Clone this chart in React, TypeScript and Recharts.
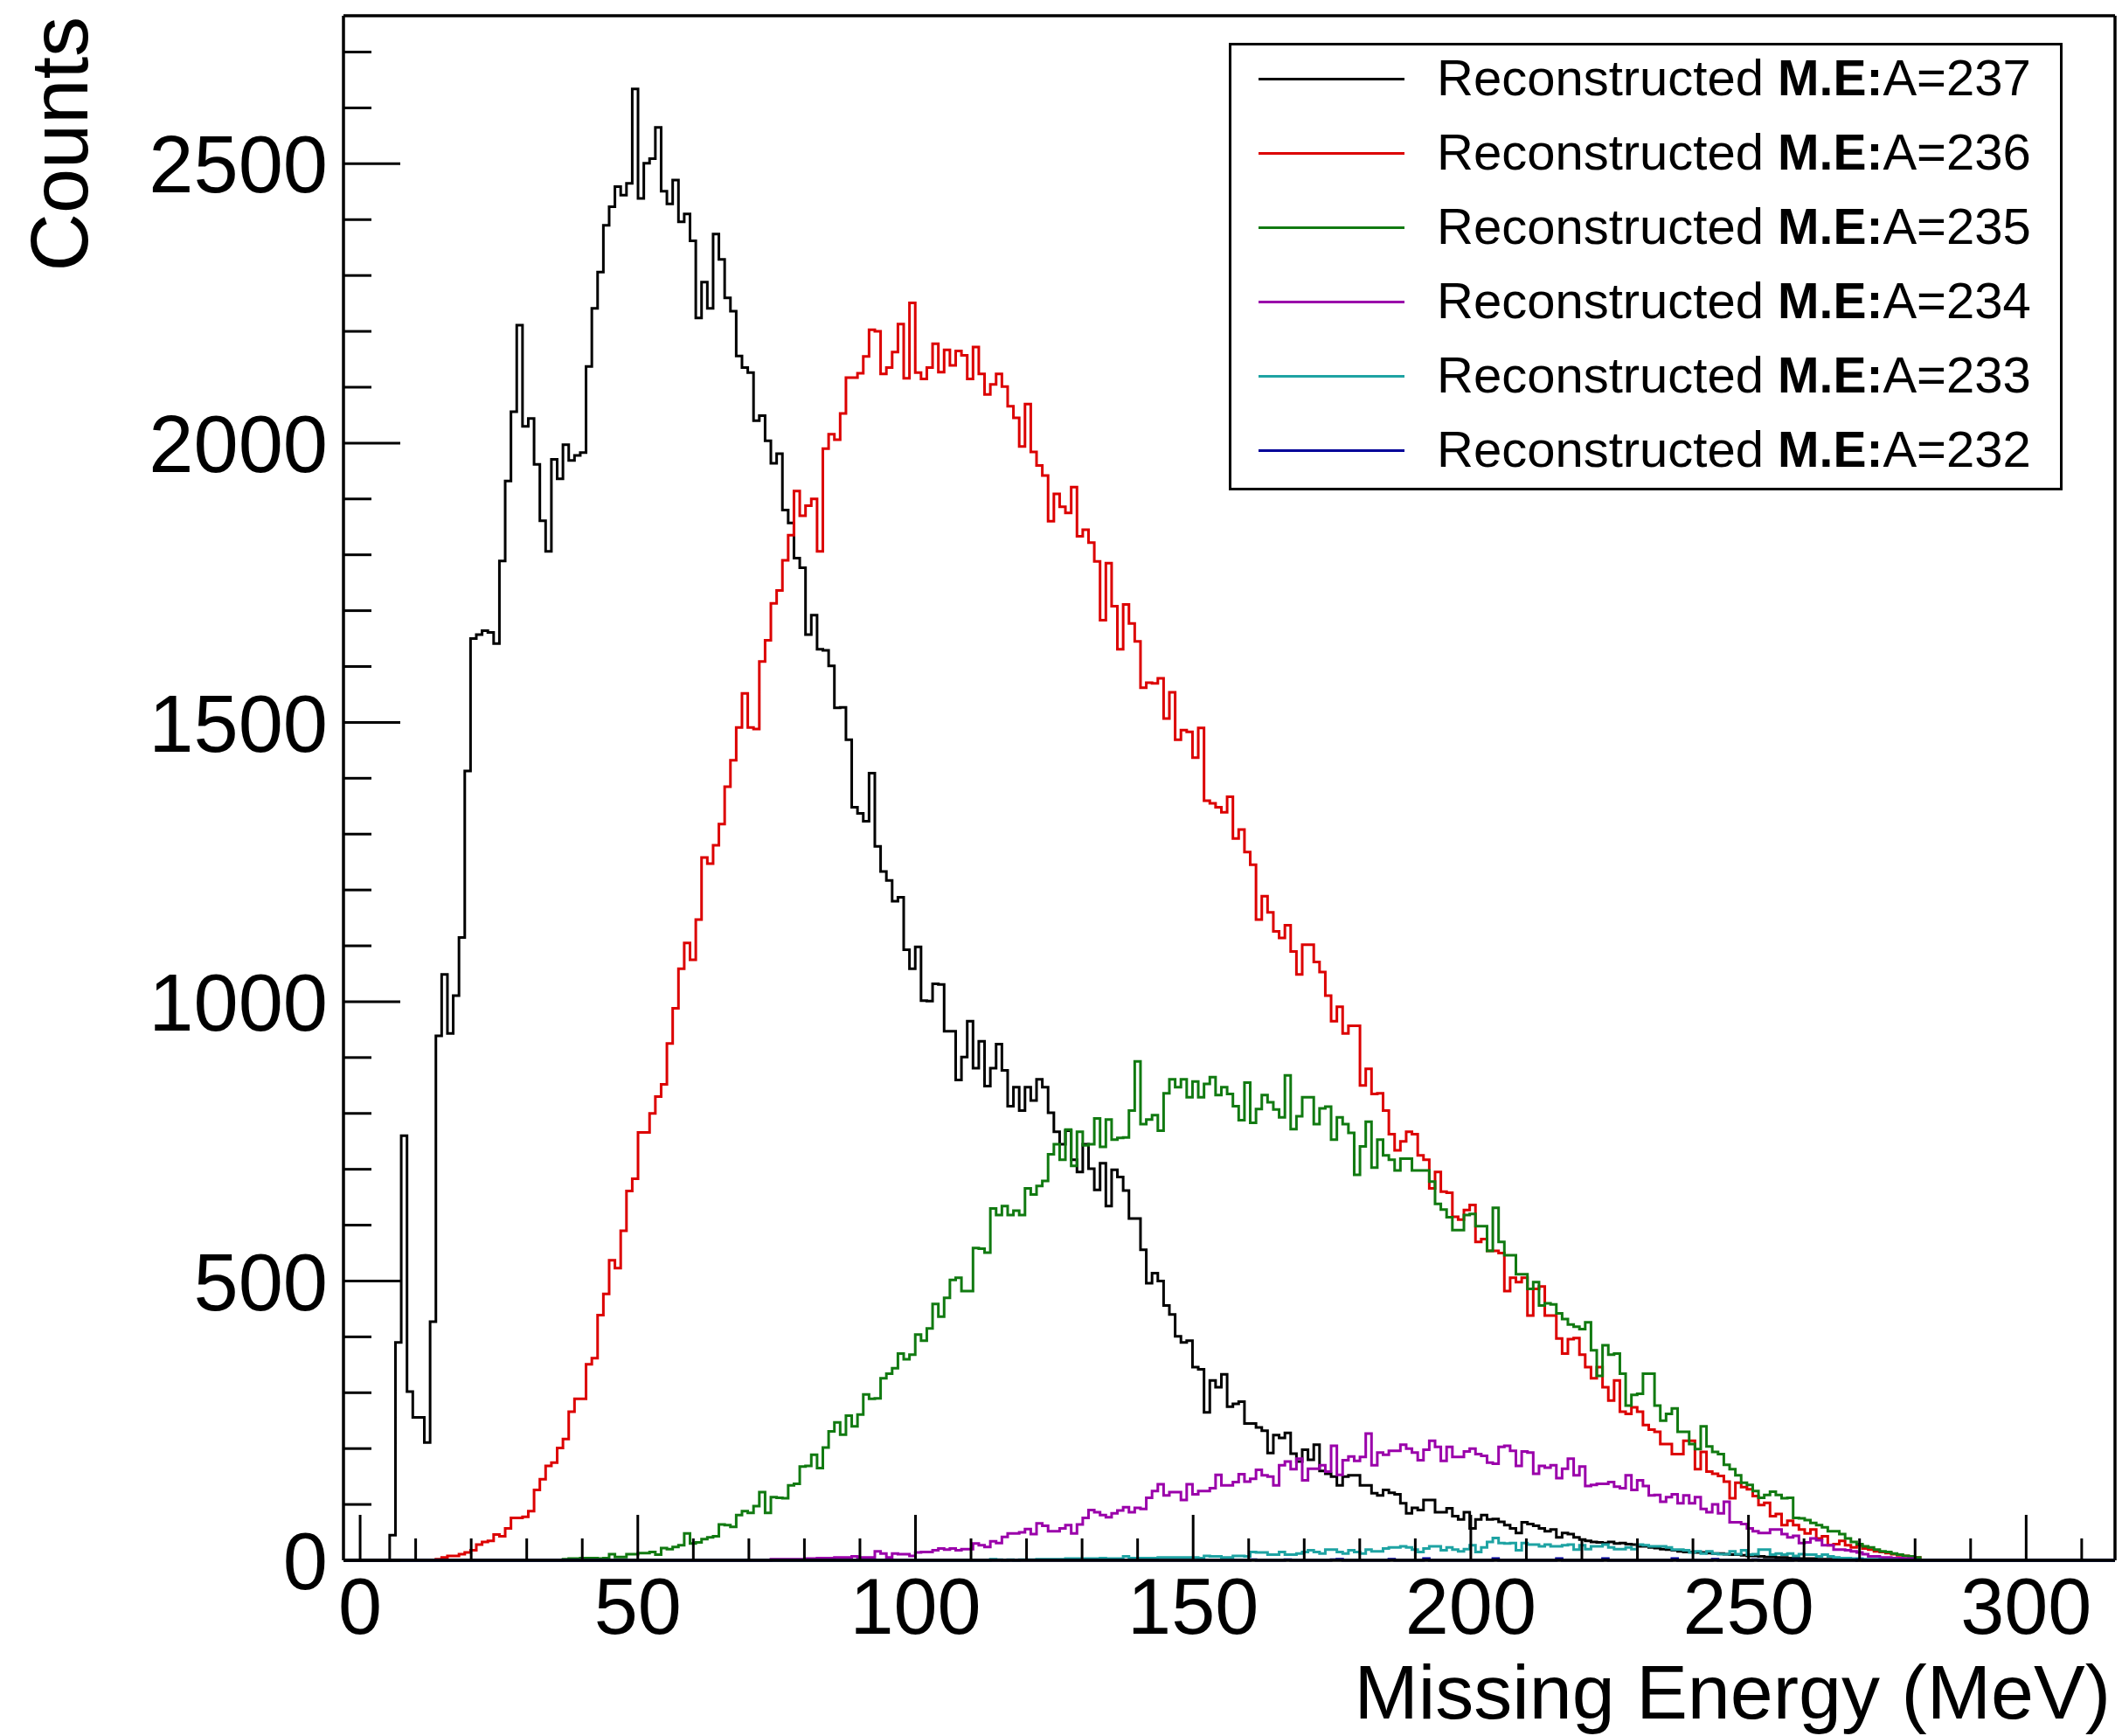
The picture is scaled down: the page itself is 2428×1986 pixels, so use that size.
import React from 'react';
import { LineChart, Line, XAxis, YAxis, ReferenceLine, Legend } from 'recharts';

const FONT = '"Liberation Sans", Arial, Helvetica, sans-serif';

// histogram binning (MeV)
const BIN_START = -3;
const BIN_WIDTH = 1.04;
const BIN_COUNT = 307;
const X_MAX = 316;
const Y_MAX = 2765;

const xTicks = [0, 10, 20, 30, 40, 50, 60, 70, 80, 90, 100, 110, 120, 130, 140, 150, 160, 170, 180, 190, 200, 210, 220, 230, 240, 250, 260, 270, 280, 290, 300, 310];
const yTicks = [0, 100, 200, 300, 400, 500, 600, 700, 800, 900, 1000, 1100, 1200, 1300, 1400, 1500, 1600, 1700, 1800, 1900, 2000, 2100, 2200, 2300, 2400, 2500, 2600, 2700];

// counts per bin, first entry sits in bin index *Start
const a237Start = 8;
const a237 = [
  45, 390, 760, 302, 256, 256, 211, 427,
  939, 1049, 943, 1011, 1115, 1413, 1650, 1657, 1664, 1661, 1641,
  1789, 1932, 2056, 2211, 2030, 2044, 1962, 1861, 1806, 1971, 1936, 1997, 1969, 1978, 1983, 2137, 2241, 2306, 2390, 2423,
  2459, 2444, 2465, 2634, 2438, 2501, 2509, 2565, 2451, 2428, 2471, 2396, 2410, 2362, 2224, 2288, 2241, 2374, 2329, 2260,
  2236, 2156, 2135, 2126, 2040, 2049, 2004, 1964, 1981, 1880, 1857, 1794, 1777, 1657, 1692, 1631, 1629, 1601, 1526, 1527,
  1469, 1348, 1337, 1323, 1409, 1278, 1233, 1217, 1180, 1187, 1093, 1059, 1098, 1002, 1001, 1032, 1031, 947, 947, 860,
  901, 965, 881, 929, 849, 881, 924, 877, 813, 847, 805, 847, 823, 861, 847, 801, 767, 745, 769, 717,
  695, 745, 701, 663, 711, 634, 699, 686, 662, 612, 612, 556, 496, 514, 500, 456, 440, 401, 390, 393,
  346, 342, 265, 322, 310, 333, 275, 280, 284, 245, 245, 238, 232, 192, 224, 219, 228, 191, 177, 198,
  180, 207, 160, 155, 150, 134, 150, 152, 152, 134, 134, 120, 116, 126, 121, 118, 102, 84, 94, 90,
  108, 108, 86, 86, 93, 79, 73, 86, 57, 73, 81, 73, 74, 69, 63, 57, 49, 68, 65, 62,
  57, 52, 55, 41, 49, 47, 41, 37, 35, 33, 32, 31, 33, 30, 31, 29, 28, 25, 25, 23,
  22, 20, 19, 18, 16, 15, 15, 14, 14, 13, 12, 12, 11, 10, 10, 9, 8, 8, 7, 6,
  6, 5, 5, 4, 4, 3, 3, 3, 2, 2, 2, 2, 1, 1, 1,
];

const a236Start = 16;
const a236 = [
  2, 5, 8, 8, 11, 14, 18, 28, 33, 35, 46, 43, 57, 76, 76, 78, 88, 126, 145, 169,
  175, 201, 217, 266, 289, 289, 351, 362, 439, 477, 537, 523, 590, 661, 683, 766, 766, 800, 830, 852,
  925, 988, 1059, 1105, 1075, 1147, 1258, 1247, 1280, 1318, 1385, 1432, 1491, 1552, 1491, 1488, 1609, 1647, 1713, 1736,
  1790, 1835, 1914, 1870, 1888, 1900, 1806, 1990, 2016, 2006, 2053, 2117, 2117, 2125, 2155, 2203, 2200, 2124, 2135, 2163,
  2213, 2116, 2251, 2126, 2115, 2135, 2178, 2127, 2167, 2139, 2165, 2157, 2115, 2172, 2124, 2087, 2105, 2124, 2101, 2066,
  2045, 1994, 2070, 1984, 1960, 1942, 1860, 1909, 1886, 1875, 1921, 1833, 1845, 1822, 1788, 1683, 1785, 1708, 1631, 1711,
  1677, 1645, 1562, 1571, 1570, 1579, 1507, 1554, 1469, 1486, 1483, 1437, 1490, 1360, 1355, 1348, 1339, 1367, 1292, 1308,
  1268, 1245, 1147, 1189, 1160, 1126, 1114, 1137, 1090, 1049, 1102, 1102, 1071, 1053, 1011, 965, 991, 943, 957, 957,
  850, 880, 835, 836, 805, 763, 734, 750, 767, 763, 725, 717, 666, 695, 660, 658, 615, 610, 627, 636,
  570, 575, 554, 554, 550, 482, 506, 498, 506, 438, 486, 490, 438, 438, 397, 370, 396, 398, 368, 346,
  326, 346, 310, 286, 322, 266, 262, 274, 266, 242, 234, 230, 208, 208, 190, 190, 214, 214, 163, 194,
  159, 155, 151, 141, 111, 139, 131, 127, 115, 99, 103, 79, 83, 63, 71, 63, 55, 48, 55, 39,
  43, 27, 29, 35, 27, 23, 27, 21, 19, 16, 15, 13, 11, 9, 8, 7, 5,
];

const a235Start = 38;
const a235 = [
  2, 3, 3, 4, 4, 4, 3, 4, 11, 6, 6, 11, 11, 13, 13, 15, 10, 22, 20, 24,
  27, 48, 30, 32, 38, 41, 43, 64, 63, 60, 81, 88, 85, 97, 122, 85, 113, 112, 111, 134,
  137, 168, 169, 189, 165, 202, 231, 247, 225, 259, 240, 261, 297, 289, 290, 326, 334, 344, 370, 360,
  368, 404, 393, 415, 459, 436, 470, 502, 506, 482, 482, 559, 558, 551, 630, 618, 634, 618, 626, 618,
  666, 655, 670, 679, 727, 745, 717, 771, 706, 767, 743, 745, 791, 740, 789, 753, 756, 757, 805, 893,
  781, 789, 797, 769, 836, 861, 847, 861, 829, 857, 829, 853, 865, 833, 847, 835, 813, 788, 855, 783,
  808, 833, 820, 807, 793, 868, 772, 795, 829, 829, 781, 809, 812, 753, 793, 781, 765, 690, 741, 785,
  703, 753, 725, 717, 698, 719, 719, 698, 698, 698, 678, 638, 628, 614, 591, 591, 618, 620, 598, 598,
  554, 631, 570, 546, 546, 512, 512, 486, 498, 456, 460, 458, 442, 432, 422, 418, 414, 426, 376, 330,
  385, 368, 370, 334, 277, 296, 298, 334, 334, 277, 250, 262, 272, 230, 230, 208, 199, 240, 204, 194,
  190, 171, 163, 152, 139, 135, 124, 112, 117, 123, 117, 111, 112, 76, 75, 72, 67, 63, 59, 52,
  52, 47, 39, 33, 29, 25, 23, 19, 16, 15, 12, 10, 8, 7, 5,
];

const a234Start = 74;
const a234 = [
  2, 2, 2, 2, 2, 2,
  3, 3, 4, 4, 4, 5, 5, 5, 7, 5, 5, 5,
  16, 12, 5, 12, 11, 11, 8, 14, 15, 15, 18, 21, 19, 21, 18, 20, 20,
  30, 27, 24, 34, 31, 42, 48, 48, 50, 56, 47, 66, 62, 52, 52, 57, 63, 48, 64, 76,
  90, 86, 81, 77, 84, 89, 95, 86, 94, 92, 112, 124, 136, 116, 122, 122, 108, 136, 118, 124,
  124, 129, 153, 134, 134, 140, 154, 141, 146, 162, 152, 150, 134, 170, 177, 163, 182, 143, 164, 164,
  170, 159, 205, 153, 179, 186, 178, 185, 227, 170, 193, 189, 196, 196, 207, 200, 193, 179, 198, 214, 203, 178, 203, 185,
  185, 195, 200, 190, 187, 175, 173, 203, 205, 196, 169, 195, 193, 155, 169, 166, 170, 147, 164, 182,
  152, 168, 133, 135, 137, 137, 140, 132, 129, 152, 126, 143, 133, 116, 117, 105, 113, 118, 102, 116,
  102, 113, 92, 86, 100, 84, 105, 68, 68, 65, 57, 52, 49, 49, 55, 55, 47, 41, 44, 31,
  32, 39, 36, 27, 27, 19, 19, 18, 16, 14, 11, 7, 7, 5, 5, 4, 4, 3, 3,
];

const a233Start = 112;
const a233 = [
  2, 1, 0, 1, 0, 1, 1, 1,
  2, 2, 2, 2, 2, 3, 3, 3,
  3, 3, 3, 4, 3, 3, 3, 7, 4,
  4, 4, 4, 4, 5, 5, 5, 5, 5, 5, 5, 4,
  8, 7, 7, 5, 5, 8, 8, 7, 15, 14, 14, 10,
  10, 15, 10, 10, 12, 15, 18, 15, 12, 19, 19, 15, 12, 18, 15, 12,
  19, 16, 16, 21, 23, 23, 25, 23, 19, 15, 21, 25, 25, 18, 23, 19,
  16, 20, 27, 15, 23, 33, 40, 31, 30, 31, 18, 31, 28, 28, 25, 28, 25, 25, 27, 28,
  19, 27, 20, 25, 25, 28, 23, 20, 20, 23, 20, 28, 27, 25, 25, 25, 23, 19, 19, 18,
  14, 16, 12, 16, 12, 11, 11, 16, 11, 18, 10, 11, 19, 19, 10, 12, 10, 12, 8, 11,
  10, 10, 7, 10, 7, 5, 4, 4, 3, 3, 2, 2, 2, 1, 1, 1,
];

const a232Start = 150;
const a232 = [
  0, 0, 0, 0, 0, 0, 0, 1, 0, 0, 0, 0, 0, 1, 0, 0, 0, 0, 0, 0,
  0, 1, 2, 0, 0, 0, 0, 0, 0, 0, 0, 2, 0, 0, 0, 0, 0, 3, 0, 0,
  0, 0, 0, 0, 0, 0, 0, 0, 0, 3, 0, 0, 0, 0, 0, 0, 0, 0, 0, 0,
  3, 0, 0, 0, 0, 0, 0, 0, 3, 0, 0, 0, 0, 0, 0, 0, 0, 0, 0, 0,
  3, 0, 0, 0, 0, 0, 0, 2, 0, 0, 0, 0, 0, 0, 1, 0, 0, 0, 0, 0,
  0, 1, 0, 0, 0, 0, 0, 0, 0, 0, 0, 0, 1,
];

const series = [
  { key: 'a237', label: 'A=237', color: '#000000', start: a237Start, values: a237 },
  { key: 'a236', label: 'A=236', color: '#dc0000', start: a236Start, values: a236 },
  { key: 'a235', label: 'A=235', color: '#117a11', start: a235Start, values: a235 },
  { key: 'a234', label: 'A=234', color: '#9a00aa', start: a234Start, values: a234 },
  { key: 'a233', label: 'A=233', color: '#1ea3a3', start: a233Start, values: a233 },
  { key: 'a232', label: 'A=232', color: '#000099', start: a232Start, values: a232 },
];

const rows: any[] = [];
for (let i = 0; i < BIN_COUNT; i++) {
  const row: any = { x: BIN_START + i * BIN_WIDTH };
  series.forEach(s => {
    const j = i - s.start;
    row[s.key] = j >= 0 && j < s.values.length ? s.values[j] : 0;
  });
  rows.push(row);
}
// closing edge of the last bin
const lastRow: any = { x: X_MAX };
series.forEach(s => { lastRow[s.key] = 0; });
rows.push(lastRow);

const XTick = (props: any) => {
  const { x, y, payload } = props;
  const v = payload.value;
  const major = v % 50 === 0;
  return (
    <g>
      <line x1={x} y1={y} x2={x} y2={y - (major ? 52 : 25)} stroke="#000" strokeWidth={3} />
      {major && (
        <text x={x} y={y + 84} textAnchor="middle" fontSize={90} fontFamily={FONT} fill="#000">{v}</text>
      )}
    </g>
  );
};

const YTick = (props: any) => {
  const { x, y, payload } = props;
  const v = payload.value;
  const major = v % 500 === 0;
  return (
    <g>
      <line x1={x} y1={y} x2={x + (major ? 65 : 32)} y2={y} stroke="#000" strokeWidth={3} />
      {major && (
        <text x={x - 18} y={y} dy="0.36em" textAnchor="end" fontSize={92} fontFamily={FONT} fill="#000">{v}</text>
      )}
    </g>
  );
};

const renderLegend = () => (
  <div style={{ position: 'relative', width: 954, height: 512, boxSizing: 'border-box', border: '3.5px solid #000', background: '#fff', fontFamily: FONT }}>
    {series.map((s, i) => (
      <div key={s.key} style={{ position: 'absolute', left: 0, top: -4 + 85 * i, height: 85, width: '100%' }}>
        <div style={{ position: 'absolute', left: 31, width: 167, height: 3, top: 41, background: s.color }} />
        <div style={{ position: 'absolute', left: 235, top: 12, lineHeight: '58px', fontSize: 58, whiteSpace: 'nowrap', color: '#000' }}>
          Reconstructed <b style={{ fontSize: 57 }}>M.E:</b>{s.label}
        </div>
      </div>
    ))}
  </div>
);

export default function App() {
  return (
    <div style={{ position: 'absolute', left: 0, top: 0, width: 2428, height: 1986, background: '#fff' }}>
      <LineChart width={2428} height={1986} data={rows} margin={{ top: 18, right: 8, bottom: 51, left: 13 }}>
        <XAxis
          type="number"
          dataKey="x"
          domain={[BIN_START, X_MAX]}
          ticks={xTicks}
          interval={0}
          tick={<XTick />}
          tickLine={false}
          tickSize={0}
          tickMargin={0}
          height={150}
          axisLine={{ stroke: '#000', strokeWidth: 3.5 }}
        />
        <YAxis
          type="number"
          domain={[0, Y_MAX]}
          ticks={yTicks}
          interval={0}
          tick={<YTick />}
          tickLine={false}
          tickSize={0}
          tickMargin={0}
          width={380}
          axisLine={{ stroke: '#000', strokeWidth: 3.5 }}
        />
        <ReferenceLine y={Y_MAX} stroke="#000" strokeWidth={3.5} ifOverflow="visible" />
        <ReferenceLine x={X_MAX} stroke="#000" strokeWidth={3.5} ifOverflow="visible" />
        {series.map(s => (
          <Line
            key={s.key}
            dataKey={s.key}
            type="stepAfter"
            stroke={s.color}
            strokeWidth={3}
            dot={false}
            activeDot={false}
            isAnimationActive={false}
          />
        ))}
        <Legend
          layout="vertical"
          align="center"
          verticalAlign="middle"
          content={renderLegend}
          wrapperStyle={{ position: 'absolute', left: 1406, top: 49, width: 954, height: 512 }}
        />
      </LineChart>
      <svg width={2428} height={1986} style={{ position: 'absolute', left: 0, top: 0, pointerEvents: 'none' }}>
        <text x={2415} y={1966} textAnchor="end" fontSize={88} fontFamily={FONT} fill="#000">Missing Energy (MeV)</text>
        <text x={100} y={19} textAnchor="end" fontSize={92} fontFamily={FONT} fill="#000" transform="rotate(-90 100 19)">Counts</text>
      </svg>
    </div>
  );
}
